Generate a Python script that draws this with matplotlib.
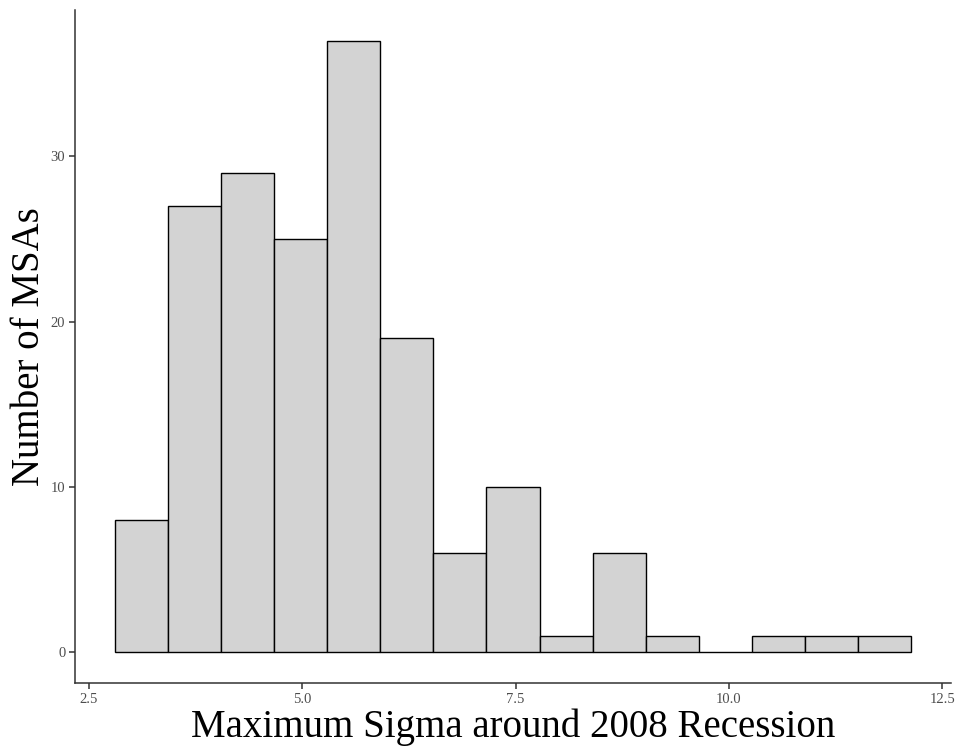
import numpy as np
import matplotlib.pyplot as plt

# histogram counts, 15 equal-width bins
counts = [8, 27, 29, 25, 37, 19, 6, 10, 1, 6, 1, 0, 1, 1, 1]
bin_lo = 2.805
bin_hi = 12.136
x_ticks = [2.5, 5.0, 7.5, 10.0, 12.5]
y_ticks = [0, 10, 20, 30]

edges = np.linspace(bin_lo, bin_hi, len(counts) + 1)
width = edges[1] - edges[0]

plt.rcParams["font.family"] = ["Liberation Serif", "DejaVu Serif"]

fig = plt.figure(figsize=(9.56, 7.51), dpi=100)
ax = fig.add_axes([75 / 956, 1 - 683 / 751, (951 - 75) / 956, (683 - 10) / 751])

ax.bar(edges[:-1], counts, width=width, align="edge",
       color="#d3d3d3", edgecolor="black", linewidth=1.0)

span = bin_hi - bin_lo
ax.set_xlim(bin_lo - 0.05 * span, bin_hi + 0.05 * span)
ymax = max(counts)
ax.set_ylim(-0.05 * ymax, ymax * 1.05)

ax.set_xticks(x_ticks)
ax.set_xticklabels([f"{t:.1f}" for t in x_ticks])
ax.set_yticks(y_ticks)

for s in ["top", "right"]:
    ax.spines[s].set_visible(False)
for s in ["left", "bottom"]:
    ax.spines[s].set_color("#333333")
    ax.spines[s].set_linewidth(1.1)

ax.tick_params(axis="both", length=4, width=1.1, color="#333333",
               labelcolor="#4d4d4d", labelsize=10.5, pad=3)

ax.set_xlabel("Maximum Sigma around 2008 Recession", fontsize=28, labelpad=2)
ax.set_ylabel("Number of MSAs", fontsize=28, labelpad=2)

fig.savefig("out.png", dpi=100)
